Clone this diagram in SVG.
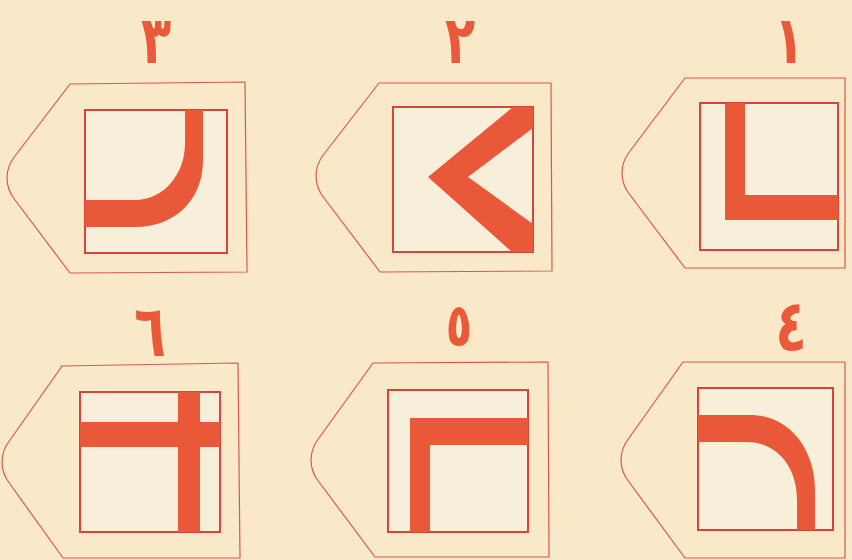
<svg xmlns="http://www.w3.org/2000/svg" width="852" height="560" viewBox="0 0 852 560">
<style>
.bg{fill:#f9e9c8}
.tile{fill:#f9e9c8;stroke:#d7594c;stroke-width:1.2;stroke-linejoin:round}
.sq{fill:#f7efd9;stroke:#d8443a;stroke-width:2}
.mark{fill:#ea583a}
.num{font-family:"DejaVu Sans",sans-serif;font-weight:bold;font-size:72px;fill:#ea5a3a;text-anchor:middle}
.top{font-size:66px}
</style>
<rect class="bg" x="0" y="0" width="852" height="560"/>

<g id="tile3">
<path class="tile" d="M70,84 L245,82 L247,272 L70,273 L15,200 Q7,190 7,178 Q7,166 15,156 Z"/>
<rect class="sq" x="85" y="110" width="142" height="143"/>
<path class="mark" d="M85,200 L135,200 C163,200 185,175 185,143 L185,110 L203,110 L203,160 C203,200 175,227 135,227 L85,227 Z"/>
<text class="num top" transform="translate(156,63) scale(0.75,1)">٣</text>
</g>

<g id="tile2">
<path class="tile" d="M379,83 L551,83 L552,271 L380,272 L324,198 Q316,188 316,176 Q316,164 324,154 Z"/>
<rect class="sq" x="393" y="107" width="140" height="145"/>
<path class="mark" d="M428,177 L513,107 L533,107 L533,128 L468,177 L533,224 L533,252 L512,252 Z"/>
<text class="num top" transform="translate(460,63) scale(0.75,1)">٢</text>
</g>

<g id="tile1">
<path class="tile" d="M685,78 L845,78 L845,268 L685,268 L630,195 Q622,185 622,173 Q622,161 630,151 Z"/>
<rect class="sq" x="700" y="103" width="138" height="147"/>
<path class="mark" d="M725,103 L745,103 L745,195 L838,195 L838,220 L725,220 Z"/>
<text class="num top" transform="translate(789,63) scale(0.75,1)">١</text>
</g>

<g id="tile6">
<path class="tile" d="M62,366 L238,363 L240,558 L63,558 L10,484 Q2,474 2,462 Q2,450 10,440 Z"/>
<rect class="sq" x="80" y="392" width="140" height="140"/>
<rect class="mark" x="80" y="422" width="140" height="25"/>
<rect class="mark" x="178" y="392" width="22" height="140"/>
<text class="num" transform="translate(150,356) scale(0.72,1)">٦</text>
</g>

<g id="tile5">
<path class="tile" d="M373,363 L548,362 L549,557 L375,557 L319,482 Q311,472 311,460 Q311,448 319,438 Z"/>
<rect class="sq" x="388" y="390" width="140" height="142"/>
<path class="mark" d="M410,418 L528,418 L528,445 L430,445 L430,532 L410,532 Z"/>
<text class="num" style="font-size:60px" transform="translate(459,346) scale(0.72,1)">٥</text>
</g>

<g id="tile4">
<path class="tile" d="M683,362 L845,362 L845,558 L685,558 L629,482 Q621,472 621,460 Q621,448 629,438 Z"/>
<rect class="sq" x="698" y="388" width="135" height="142"/>
<path class="mark" d="M698,415 L750,415 C790,415 815,450 815,490 L815,530 L797,530 L797,500 C797,465 775,442 747,442 L698,442 Z"/>
<text class="num" transform="translate(791,351) scale(0.72,1)">٤</text>
</g>

<g id="connectors"></g>
</svg>
